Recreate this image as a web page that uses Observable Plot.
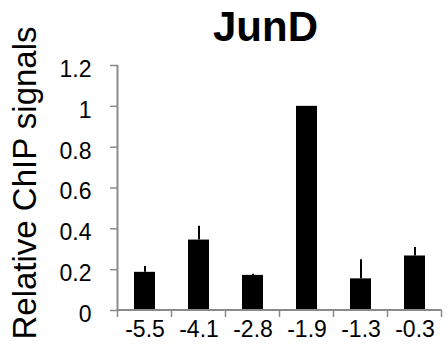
<!DOCTYPE html>
<html>
<head>
<meta charset="utf-8">
<script src="https://cdn.jsdelivr.net/npm/d3@7"></script>
<script src="https://cdn.jsdelivr.net/npm/@observablehq/plot@0.6"></script>
<style>
  html, body { margin: 0; padding: 0; background: #fff; }
</style>
</head>
<body>
<div id="chart"></div>
<script>
const categories = ["-5.5", "-4.1", "-2.8", "-1.9", "-1.3", "-0.3"];
const values = [0.187, 0.345, 0.172, 1.0, 0.155, 0.267];
const errors = [0.028, 0.068, 0.006, 0.0, 0.094, 0.041];
const yTicks = [0, 0.2, 0.4, 0.6, 0.8, 1, 1.2];
const title = "JunD";
const yLabel = "Relative ChIP signals";

const data = categories.map((c, i) => ({cat: c, value: values[i], err: errors[i]}));
const axisColor = "#8a8a8a";

// axis spines and boundary ticks between categories (drawn from the scales)
function axesLines(index, scales, values, dimensions) {
  const x = scales.x;
  const y = scales.y;
  const step = x.step ? x.step() : scales.scales.x.step;
  const bw = x.bandwidth ? x.bandwidth() : scales.scales.x.bandwidth;
  const y0 = y(0);
  const yTop = y(yTicks[yTicks.length - 1]);
  const g = d3.create("svg:g");
  const bounds = categories.map(c => x(c) + bw / 2 - step / 2);
  bounds.push(x(categories[categories.length - 1]) + bw / 2 + step / 2);
  g.selectAll("line.t").data(bounds).join("line")
    .attr("x1", d => d).attr("x2", d => d)
    .attr("y1", y0).attr("y2", y0 + 7)
    .attr("stroke", axisColor).attr("stroke-width", 1.5);
  g.append("line")
    .attr("x1", bounds[0]).attr("x2", bounds[bounds.length - 1])
    .attr("y1", y0).attr("y2", y0)
    .attr("stroke", axisColor).attr("stroke-width", 2);
  g.append("line")
    .attr("x1", bounds[0]).attr("x2", bounds[0])
    .attr("y1", y0).attr("y2", yTop)
    .attr("stroke", axisColor).attr("stroke-width", 2);
  return g.node();
}

const chart = Plot.plot({
  width: 446,
  height: 356,
  marginLeft: 118,
  marginRight: 4,
  marginTop: 65,
  marginBottom: 46,
  style: {fontFamily: "Liberation Sans, Arial, sans-serif", background: "#fff"},
  x: {domain: categories, paddingInner: 0.61, paddingOuter: 0.305, label: null},
  y: {domain: [0, 1.2], label: null},
  marks: [
    Plot.barY(data, {x: "cat", y: "value", fill: "#000"}),
    Plot.ruleX(data.filter(d => d.err > 0), {x: "cat", y1: "value", y2: d => d.value + d.err, stroke: "#000", strokeWidth: 2}),
    Plot.axisY({ticks: yTicks, tickSize: 8, text: null, stroke: axisColor, strokeWidth: 1.5, label: null}),
    Plot.axisY({ticks: yTicks, tickSize: 0, tickPadding: 27, fontSize: 23, tickFormat: d => String(d), color: "#000", label: null, dy: 4}),
    Plot.axisX({tickSize: 0, tickPadding: 10, fontSize: 23, label: null, color: "#000"}),
    axesLines,
    Plot.text([title], {frameAnchor: "top", text: d => d, dy: -54, dx: -15, fontSize: 42, fontWeight: "bold", fill: "#000"}),
    Plot.text([yLabel], {frameAnchor: "left", textAnchor: "middle", text: d => d, rotate: -90, dx: -93, dy: -5, fontSize: 33, fill: "#000"})
  ]
});

document.getElementById("chart").appendChild(chart);
</script>
</body>
</html>
